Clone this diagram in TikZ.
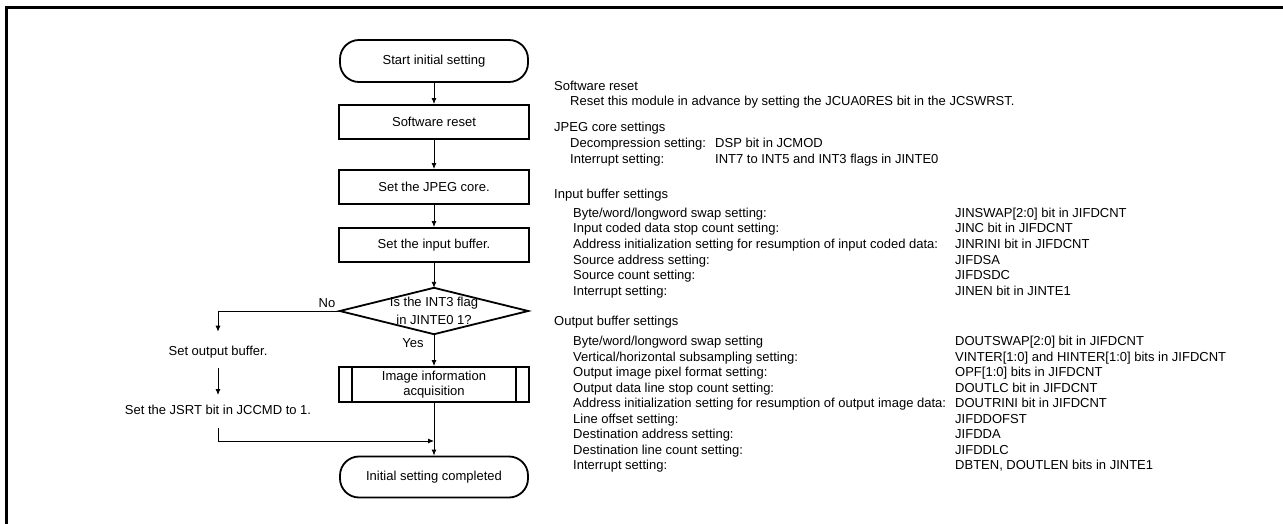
\documentclass[tikz,border=0pt]{standalone}
\usepackage{fontspec}
\setmainfont{Liberation Sans}
\usetikzlibrary{arrows.meta}
\begin{document}
\begin{tikzpicture}[x=1pt,y=-1pt,
  every node/.style={font=\fontsize{13}{15.6}\selectfont, inner sep=0pt},
  proc/.style={draw, line width=1.8pt, minimum width=190pt, minimum height=34pt, align=center},
  term/.style={draw, line width=1.8pt, rounded corners=19pt, minimum width=188pt, minimum height=42pt},
  conn/.style={line width=0.9pt, -{Latex[length=6pt,width=5pt]}},
  plain/.style={line width=0.9pt},
  txt/.style={anchor=base west},
]
\useasboundingbox (0,0) rectangle (1283,524);
\draw[line width=2.5pt] (6.5,524) -- (6.5,7.5) -- (1283,7.5);

% flowchart
\node[term] (start) at (434,61) {Start initial setting};
\node[proc] (sw) at (434,122) {Software reset};
\node[proc] (jpeg) at (434,187) {Set the JPEG core.};
\node[proc] (inbuf) at (434,245) {Set the input buffer.};
\node[minimum width=188pt, minimum height=46pt, align=center, font=\fontsize{13}{18.5}\selectfont] (dec) at (434,311) {Is the INT3 flag\\in JINTE0 1?};
\draw[line width=1.8pt] (dec.north) -- (dec.east) -- (dec.south) -- (dec.west) -- cycle;
\node[proc, minimum height=35pt] (img) at (434,384.5) {Image information\\acquisition};
\draw[line width=1.8pt] ([xshift=14pt]img.north west) -- ([xshift=14pt]img.south west);
\draw[line width=1.8pt] ([xshift=-14pt]img.north east) -- ([xshift=-14pt]img.south east);
\node[term, minimum height=41pt] (endt) at (434,477) {Initial setting completed};

\node (outbuf) at (218,352) {Set output buffer.};
\node (jsrt) at (218,410) {Set the JSRT bit in JCCMD to 1.};
\node (no) at (327,303) {No};
\node (yes) at (413,343) {Yes};
\coordinate (join) at (434,441);

\draw[conn] (start) -- (sw);
\draw[conn] (sw) -- (jpeg);
\draw[conn] (jpeg) -- (inbuf);
\draw[conn] (inbuf) -- (dec.north);
\draw[conn] (dec.south) -- (img);
\draw[conn, shorten >=14pt] (dec.west) -| (outbuf.north);
\draw[conn, shorten <=10pt, shorten >=10pt] (outbuf) -- (jsrt);
\draw[conn, shorten <=13pt] (jsrt.south) |- (join);
\draw[conn] (img) -- (endt);

% description text
\node[txt] (h1) at (554,90.5) {Software reset};
\node[txt] (h1a) at (570,105.5) {Reset this module in advance by setting the JCUA0RES bit in the JCSWRST.};

\node[txt] (h2) at (554,132) {JPEG core settings};
\node[txt] (h2a) at (570,147.5) {Decompression setting:};
\node[txt] (h2av) at (715,147.5) {DSP bit in JCMOD};
\node[txt] (h2b) at (570,163.5) {Interrupt setting:};
\node[txt] (h2bv) at (715,163.5) {INT7 to INT5 and INT3 flags in JINTE0};

\node[txt] (h3) at (554,198.5) {Input buffer settings};
\node[txt] (i1) at (573,217.5) {Byte/word/longword swap setting:};
\node[txt] (i1v) at (955,217.5) {JINSWAP[2:0] bit in JIFDCNT};
\node[txt] (i2) at (573,233) {Input coded data stop count setting:};
\node[txt] (i2v) at (955,233) {JINC bit in JIFDCNT};
\node[txt] (i3) at (573,248.5) {Address initialization setting for resumption of input coded data:};
\node[txt] (i3v) at (955,248.5) {JINRINI bit in JIFDCNT};
\node[txt] (i4) at (573,264) {Source address setting:};
\node[txt] (i4v) at (955,264) {JIFDSA};
\node[txt] (i5) at (573,279.5) {Source count setting:};
\node[txt] (i5v) at (955,279.5) {JIFDSDC};
\node[txt] (i6) at (573,295) {Interrupt setting:};
\node[txt] (i6v) at (955,295) {JINEN bit in JINTE1};

\node[txt] (h4) at (554,325.5) {Output buffer settings};
\node[txt] (o1) at (573,345.5) {Byte/word/longword swap setting};
\node[txt] (o1v) at (955,345.5) {DOUTSWAP[2:0] bit in JIFDCNT};
\node[txt] (o2) at (573,361) {Vertical/horizontal subsampling setting:};
\node[txt] (o2v) at (955,361) {VINTER[1:0] and HINTER[1:0] bits in JIFDCNT};
\node[txt] (o3) at (573,376.5) {Output image pixel format setting:};
\node[txt] (o3v) at (955,376.5) {OPF[1:0] bits in JIFDCNT};
\node[txt] (o4) at (573,392) {Output data line stop count setting:};
\node[txt] (o4v) at (955,392) {DOUTLC bit in JIFDCNT};
\node[txt] (o5) at (573,407.5) {Address initialization setting for resumption of output image data:};
\node[txt] (o5v) at (955,407.5) {DOUTRINI bit in JIFDCNT};
\node[txt] (o6) at (573,423) {Line offset setting:};
\node[txt] (o6v) at (955,423) {JIFDDOFST};
\node[txt] (o7) at (573,438.5) {Destination address setting:};
\node[txt] (o7v) at (955,438.5) {JIFDDA};
\node[txt] (o8) at (573,454) {Destination line count setting:};
\node[txt] (o8v) at (955,454) {JIFDDLC};
\node[txt] (o9) at (573,469.5) {Interrupt setting:};
\node[txt] (o9v) at (955,469.5) {DBTEN, DOUTLEN bits in JINTE1};
\end{tikzpicture}
\end{document}
